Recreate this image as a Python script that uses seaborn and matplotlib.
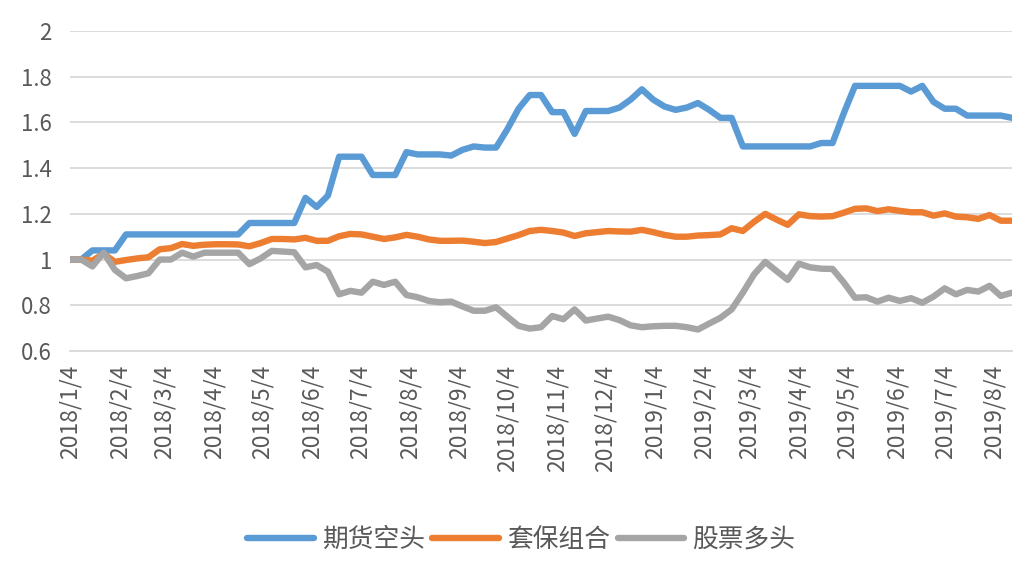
import matplotlib
matplotlib.use("Agg")
import matplotlib.pyplot as plt
import matplotlib.ticker as mticker
import numpy as np
import pandas as pd
import seaborn as sns

start_date = "2018-01-04"
n_weeks = 85

futures_short = [
    1.00, 1.00, 1.04, 1.04, 1.04, 1.11, 1.11, 1.11, 1.11, 1.11,
    1.11, 1.11, 1.11, 1.11, 1.11, 1.11, 1.16, 1.16, 1.16, 1.16,
    1.16, 1.27, 1.23, 1.28, 1.45, 1.45, 1.45, 1.37, 1.37, 1.37,
    1.47, 1.46, 1.46, 1.46, 1.455, 1.48, 1.495, 1.49, 1.49, 1.57,
    1.66, 1.72, 1.72, 1.645, 1.645, 1.55, 1.65, 1.65, 1.65, 1.665,
    1.70, 1.745, 1.70, 1.67, 1.655, 1.665, 1.685, 1.655, 1.62, 1.62,
    1.495, 1.495, 1.495, 1.495, 1.495, 1.495, 1.495, 1.51, 1.51, 1.64,
    1.76, 1.76, 1.76, 1.76, 1.76, 1.735, 1.76, 1.69, 1.66, 1.66,
    1.63, 1.63, 1.63, 1.63, 1.62,
]
hedge_portfolio = [
    1.00, 1.00, 0.995, 1.025, 0.99, 0.998, 1.005, 1.01, 1.045, 1.05,
    1.068, 1.06, 1.065, 1.067, 1.067, 1.066, 1.058, 1.072, 1.09, 1.09,
    1.088, 1.095, 1.082, 1.082, 1.102, 1.112, 1.11, 1.10, 1.09, 1.097,
    1.108, 1.10, 1.088, 1.082, 1.082, 1.083, 1.078, 1.072, 1.077, 1.092,
    1.107, 1.125, 1.13, 1.125, 1.118, 1.103, 1.115, 1.12, 1.125, 1.123,
    1.122, 1.13, 1.12, 1.108, 1.10, 1.10, 1.105, 1.107, 1.11, 1.137,
    1.125, 1.165, 1.20, 1.175, 1.152, 1.198, 1.19, 1.188, 1.19, 1.205,
    1.222, 1.224, 1.212, 1.22, 1.213, 1.207, 1.207, 1.192, 1.202, 1.188,
    1.185, 1.178, 1.195, 1.17, 1.17,
]
stock_long = [
    1.00, 1.00, 0.97, 1.03, 0.955, 0.918, 0.928, 0.94, 1.00, 1.00,
    1.03, 1.013, 1.03, 1.03, 1.03, 1.03, 0.98, 1.005, 1.038, 1.035,
    1.032, 0.966, 0.976, 0.947, 0.848, 0.863, 0.855, 0.903, 0.889, 0.903,
    0.845, 0.835, 0.819, 0.813, 0.816, 0.795, 0.776, 0.776, 0.791, 0.75,
    0.71, 0.698, 0.704, 0.753, 0.739, 0.782, 0.733, 0.742, 0.75, 0.735,
    0.712, 0.704, 0.708, 0.71, 0.71, 0.704, 0.694, 0.72, 0.745, 0.782,
    0.855, 0.935, 0.99, 0.95, 0.911, 0.982, 0.966, 0.96, 0.959, 0.90,
    0.833, 0.835, 0.816, 0.833, 0.819, 0.831, 0.811, 0.838, 0.874, 0.848,
    0.867, 0.86, 0.885, 0.841, 0.855,
]
series_names = ["期货空头", "套保组合", "股票多头"]
series_colors = ["#5B9BD5", "#ED7D31", "#A5A5A5"]
tick_dates = pd.date_range("2018-01-01", "2019-08-01", freq="MS") + pd.Timedelta(days=3)
y_ticks = [0.6, 0.8, 1.0, 1.2, 1.4, 1.6, 1.8, 2.0]

dates = pd.date_range(start_date, periods=n_weeks, freq="7D")
df = pd.DataFrame({
    "date": np.tile(dates, 3),
    "value": futures_short + hedge_portfolio + stock_long,
    "series": np.repeat(series_names, n_weeks),
})

sns.set_theme(style="white")
plt.rcParams["font.family"] = ["Noto Sans CJK SC", "DejaVu Sans"]

fig = plt.figure(figsize=(10.32, 5.67), dpi=100)
ax = fig.add_axes([0.0678, 0.381, 0.9128, 0.5643])

sns.lineplot(data=df, x="date", y="value", hue="series", hue_order=series_names,
             palette=series_colors, linewidth=4.6, ax=ax, legend=True)

ax.set_ylim(0.6, 2.0)
ax.set_xlim(dates[0], dates[-1])
ax.set_yticks(y_ticks)
ax.yaxis.set_major_formatter(mticker.FuncFormatter(lambda v, p: f"{v:g}"))
ax.set_xticks(tick_dates)
ax.set_xticklabels([f"{d.year}/{d.month}/{d.day}" for d in tick_dates], rotation=90)
ax.grid(axis="y", color="#D9D9D9", linewidth=1.3)
ax.set_axisbelow(True)
for s in ["top", "right", "left"]:
    ax.spines[s].set_visible(False)
ax.spines["bottom"].set_color("#D9D9D9")
ax.spines["bottom"].set_linewidth(1.3)
ax.tick_params(axis="x", colors="#595959", labelsize=16.5, length=7, width=1.3,
               color="#D9D9D9", direction="out", pad=3)
ax.tick_params(axis="y", colors="#595959", labelsize=16, length=0, pad=13)
for lab in ax.get_xticklabels():
    lab.set_color("#595959")
ax.set_xlabel("")
ax.set_ylabel("")

ax.legend(loc="center", bbox_to_anchor=(0.479, -0.59), ncol=3, frameon=False,
          fontsize=18.5, handlelength=2.6, handletextpad=0.3, columnspacing=0.3,
          labelcolor="#595959")
for line in ax.get_legend().get_lines():
    line.set_linewidth(4.6)
    line.set_solid_capstyle("round")

fig.savefig("out.png", dpi=100)
